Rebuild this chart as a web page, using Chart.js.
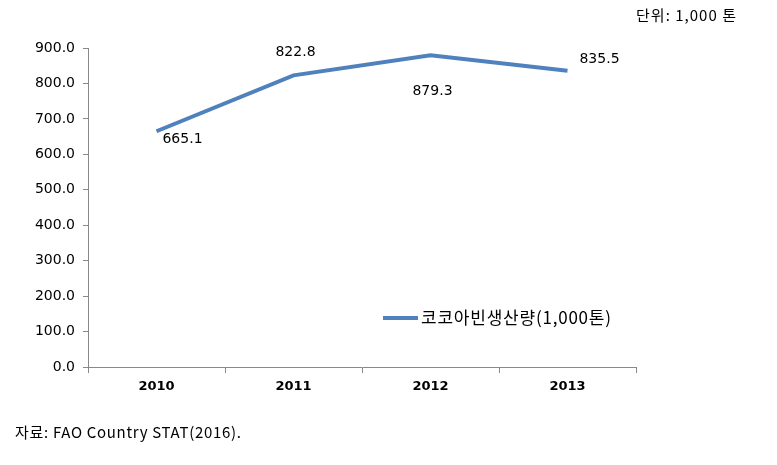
<!DOCTYPE html>
<html><head><meta charset="utf-8">
<script src="https://cdn.jsdelivr.net/npm/chart.js@4"></script>
<style>html,body{margin:0;padding:0;background:#fff}#wrap{width:777px;height:465px;position:relative}</style>
</head><body><div id="wrap"><canvas id="c" width="777" height="465"></canvas></div>
<script>
const categories = ['2010', '2011', '2012', '2013'];
const production = [665.1, 822.8, 879.3, 835.5];
const seriesLabel = '코코아빈생산량(1,000톤)';
const yTicks = [0, 100, 200, 300, 400, 500, 600, 700, 800, 900];
const unitText = '단위: 1,000 톤';
const sourceText = '자료: FAO Country STAT(2016).';
const labelOffsets = [[26, 8], [2, -23], [2, 36], [32, -12]];

const lineColor = '#4F81BD';
const fontFam = '"DejaVu Sans", "Noto Sans CJK KR", sans-serif';
const krFam = '"Noto Sans CJK KR", sans-serif';

function fitText(ctx, text, x, y, width) {
  ctx.letterSpacing = '0px';
  const w = ctx.measureText(text).width;
  const n = Array.from(text).length;
  const ls = (width - w) / Math.max(1, n - 1);
  ctx.letterSpacing = ls.toFixed(2) + 'px';
  ctx.textAlign = 'left';
  ctx.fillText(text, x, y);
  ctx.letterSpacing = '0px';
}

const overlay = {
  id: 'overlay',
  afterDatasetsDraw(chart) {
    const ctx = chart.ctx;
    const meta = chart.getDatasetMeta(0);
    ctx.save();
    ctx.fillStyle = '#000';
    ctx.font = '14px ' + fontFam;
    ctx.textAlign = 'center';
    ctx.textBaseline = 'middle';
    meta.data.forEach((pt, i) => {
      const o = labelOffsets[i];
      ctx.fillText(production[i].toFixed(1), pt.x + o[0], pt.y + o[1]);
    });
    // legend
    ctx.strokeStyle = lineColor;
    ctx.lineWidth = 4;
    ctx.beginPath();
    ctx.moveTo(383, 318);
    ctx.lineTo(418, 318);
    ctx.stroke();
    ctx.font = '17px ' + krFam;
    fitText(ctx, seriesLabel, 421, 318, 190);
    // unit
    ctx.font = '15px ' + krFam;
    fitText(ctx, unitText, 636, 15, 100);
    // source
    ctx.font = '15px ' + krFam;
    fitText(ctx, sourceText, 15, 432, 226);
    ctx.restore();
  }
};

new Chart(document.getElementById('c'), {
  type: 'line',
  data: {
    labels: categories,
    datasets: [{
      label: seriesLabel,
      data: production,
      borderColor: lineColor,
      backgroundColor: lineColor,
      borderWidth: 4,
      pointRadius: 0,
      tension: 0,
      fill: false
    }]
  },
  options: {
    responsive: false,
    animation: false,
    layout: { padding: { top: 48, right: 141, bottom: 0, left: 0 } },
    plugins: { legend: { display: false }, tooltip: { enabled: false } },
    scales: {
      x: {
        offset: true,
        grid: { display: true, drawOnChartArea: false, offset: true, color: '#888', tickLength: 6 },
        border: { display: true, color: '#888', width: 1 },
        ticks: { color: '#000', font: { family: fontFam, size: 13, weight: 'bold' }, padding: 6 },
        afterFit(s) { s.height = 98; }
      },
      y: {
        min: 0, max: 900,
        afterBuildTicks(s) { s.ticks = yTicks.map(v => ({ value: v })); },
        grid: { display: true, drawOnChartArea: false, color: '#888', tickLength: 5 },
        border: { display: true, color: '#888', width: 1 },
        ticks: { color: '#000', font: { family: fontFam, size: 14 }, padding: 8,
          callback: v => Number(v).toFixed(1) },
        afterFit(s) { s.width = 88; }
      }
    }
  },
  plugins: [overlay]
});
</script></body></html>
